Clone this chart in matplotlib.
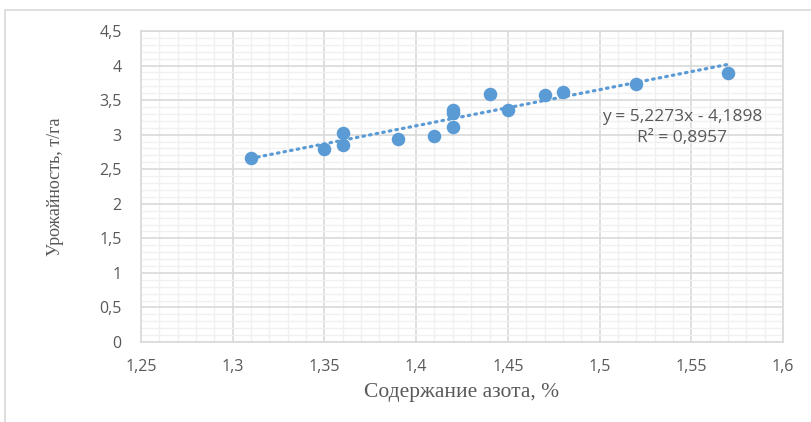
import matplotlib.pyplot as plt
from matplotlib.patches import Rectangle
from matplotlib.ticker import MultipleLocator, FuncFormatter

# содержание азота, % и урожайность, т/га
nitrogen = [1.31, 1.35, 1.36, 1.36, 1.39, 1.41, 1.42, 1.42, 1.42, 1.44, 1.45, 1.47, 1.48, 1.52, 1.57]
yield_t = [2.66, 2.79, 3.02, 2.85, 2.94, 2.98, 3.11, 3.31, 3.36, 3.59, 3.36, 3.57, 3.62, 3.73, 3.89]

slope = 5.2273
intercept = -4.1898
r2 = 0.8957

blue = '#5B9BD5'
gray = '#595959'

fig = plt.figure(figsize=(8.12, 4.22), dpi=100)
fig.patches.append(Rectangle((5 / 812, -0.1), 1.2, 1 - 10 / 422 + 0.1, transform=fig.transFigure,
                             fill=False, edgecolor='#D9D9D9', linewidth=1.2))

ax = fig.add_axes([141 / 812, 80 / 422, 642 / 812, 311 / 422])
ax.set_xlim(1.25, 1.6)
ax.set_ylim(0, 4.5)
ax.xaxis.set_major_locator(MultipleLocator(0.05))
ax.xaxis.set_minor_locator(MultipleLocator(0.01))
ax.yaxis.set_major_locator(MultipleLocator(0.5))
ax.yaxis.set_minor_locator(MultipleLocator(0.1))

comma = FuncFormatter(lambda v, p: f'{v:.2f}'.rstrip('0').rstrip('.').replace('.', ','))
ax.xaxis.set_major_formatter(comma)
ax.yaxis.set_major_formatter(comma)

ax.grid(which='minor', color='#F0F0F0', linewidth=1.0)
ax.grid(which='major', color='#D9D9D9', linewidth=1.2)
ax.set_axisbelow(True)
for s in ax.spines.values():
    s.set_color('#D9D9D9')
    s.set_linewidth(1.2)
ax.tick_params(which='both', length=0)
ax.tick_params(axis='x', pad=12, labelsize=11.5, labelcolor=gray)
ax.tick_params(axis='y', pad=14, labelsize=11.5, labelcolor=gray)
for lbl in ax.get_xticklabels() + ax.get_yticklabels():
    lbl.set_fontfamily('Open Sans')

ax.scatter(nitrogen, yield_t, s=95, color=blue, zorder=3, linewidths=0)

xs = [min(nitrogen), max(nitrogen)]
ax.plot(xs, [slope * x + intercept for x in xs], color=blue, linewidth=2.3,
        linestyle=(0, (0.5, 1.6)), dash_capstyle='round', zorder=2)

ax.text(1.545, 3.26, f'y = {slope:.4f}x - {abs(intercept):.4f}'.replace('.', ','),
        ha='center', va='center', fontsize=12.5, color=gray, family='Open Sans')
ax.text(1.545, 2.95, f'R² = {r2:.4f}'.replace('.', ','),
        ha='center', va='center', fontsize=12.5, color=gray, family='Open Sans')

ax.set_xlabel('Содержание азота, %', fontsize=15.5, color=gray, family='Liberation Serif', labelpad=6)
ax.set_ylabel('Урожайность, т/га', fontsize=13, color=gray, family='Liberation Serif', labelpad=25)

fig.savefig('out.png', dpi=100)
